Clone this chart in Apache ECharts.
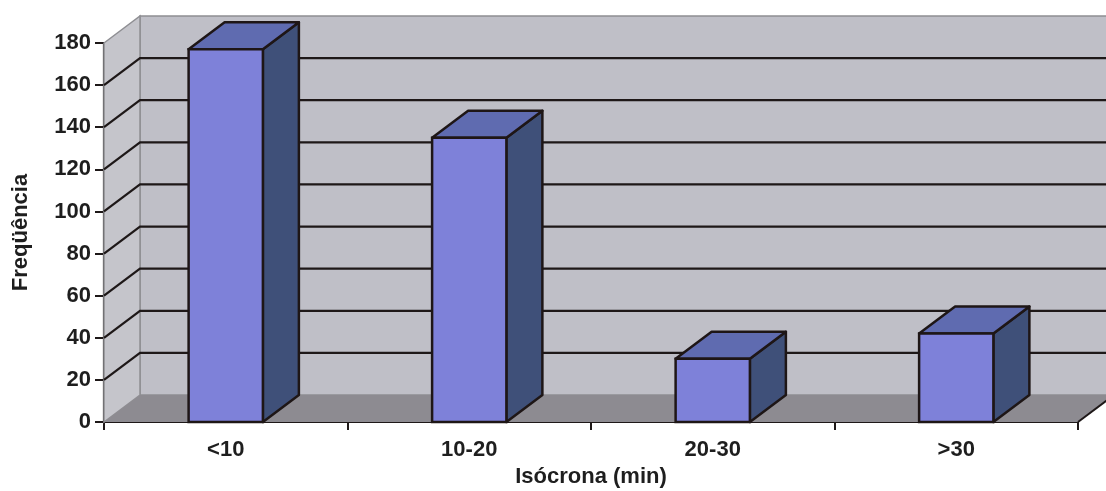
<!DOCTYPE html>
<html>
<head>
<meta charset="utf-8">
<script src="https://cdn.jsdelivr.net/npm/echarts@6/dist/echarts.min.js"></script>
<style>
html,body{margin:0;padding:0;background:#fff;}
#chart{width:1106px;height:491px;}
</style>
</head>
<body>
<div id="chart"></div>
<script>
const categories = ['<10', '10-20', '20-30', '>30'];
const values = [177, 135, 30, 42];
const yMin = 0, yMax = 180, yInterval = 20;
const gridValues = [20, 40, 60, 80, 100, 120, 140, 160];
const yAxisTitle = 'Freqüência';
const xAxisTitle = 'Isócrona (min)';

const DX = 36, DY = -27;
const FONT = "'Liberation Sans', Arial, sans-serif";

const chart = echarts.init(document.getElementById('chart'), null, {renderer: 'canvas'});

function renderBackground(params, api) {
  const cs = params.coordSys;
  const gx = cs.x, gy = cs.y, gw = cs.width, gh = cs.height;
  const children = [];
  children.push({type: 'rect', shape: {x: gx + DX, y: gy + DY, width: gw, height: gh},
    style: {fill: '#bfbfc7', stroke: '#8f8f93', lineWidth: 1.5}});
  children.push({type: 'polygon', shape: {points: [[gx, gy], [gx + DX, gy + DY], [gx + DX, gy + gh + DY], [gx, gy + gh]]},
    style: {fill: '#c5c5cb', stroke: '#8f8f93', lineWidth: 1.5}});
  children.push({type: 'polygon', shape: {points: [[gx, gy + gh], [gx + DX, gy + gh + DY], [gx + gw + DX, gy + gh + DY], [gx + gw, gy + gh]]},
    style: {fill: '#8d8b91', stroke: null}});
  children.push({type: 'line', shape: {x1: gx + gw, y1: gy + gh, x2: gx + gw + DX, y2: gy + gh + DY},
    style: {stroke: '#1e1818', lineWidth: 2}});
  gridValues.forEach(function (v) {
    const y = api.coord([0, v])[1];
    children.push({type: 'polyline', shape: {points: [[gx, y], [gx + DX, y + DY], [gx + gw + DX, y + DY]]},
      style: {stroke: '#1e1818', lineWidth: 2.2, fill: null}});
  });
  return {type: 'group', children: children};
}

function renderBar(params, api) {
  const idx = api.value(0);
  const val = api.value(1);
  const top = api.coord([idx, val]);
  const base = api.coord([idx, 0]);
  const bw = api.size([1, 0])[0] * 0.305;
  const x0 = top[0] - bw / 2, x1 = top[0] + bw / 2;
  const yt = top[1], yb = base[1];
  const stroke = '#1e1616';
  const lw = 2.5;
  return {type: 'group', children: [
    {type: 'polygon', shape: {points: [[x1, yt], [x1 + DX, yt + DY], [x1 + DX, yb + DY], [x1, yb]]},
      style: {fill: '#3f5079', stroke: stroke, lineWidth: lw, lineJoin: 'round'}},
    {type: 'polygon', shape: {points: [[x0, yt], [x0 + DX, yt + DY], [x1 + DX, yt + DY], [x1, yt]]},
      style: {fill: '#5f6bb0', stroke: stroke, lineWidth: lw, lineJoin: 'round'}},
    {type: 'rect', shape: {x: x0, y: yt, width: bw, height: yb - yt},
      style: {fill: '#7e81d9', stroke: stroke, lineWidth: lw}}
  ]};
}

const option = {
  animation: false,
  backgroundColor: '#ffffff',
  grid: {left: 104, right: 28, top: 43, bottom: 69, containLabel: false, outerBoundsMode: 'none'},
  xAxis: {
    type: 'category',
    data: categories,
    boundaryGap: true,
    axisLine: {show: true, lineStyle: {color: '#1e1818', width: 2.2}},
    axisTick: {show: true, length: 8, lineStyle: {color: '#1e1818', width: 2}},
    axisLabel: {margin: 17, color: '#1e1e1e', fontFamily: FONT, fontWeight: 'bold', fontSize: 22},
    splitLine: {show: false},
    name: xAxisTitle,
    nameLocation: 'middle',
    nameGap: 44,
    nameTextStyle: {color: '#1e1e1e', fontFamily: FONT, fontWeight: 'bold', fontSize: 22}
  },
  yAxis: {
    type: 'value',
    min: yMin, max: yMax, interval: yInterval,
    axisLine: {show: true, lineStyle: {color: '#1e1818', width: 2.2}},
    axisTick: {show: true, length: 9, lineStyle: {color: '#1e1818', width: 2}},
    axisLabel: {margin: 13, color: '#1e1e1e', fontFamily: FONT, fontWeight: 'bold', fontSize: 22},
    splitLine: {show: false},
    name: yAxisTitle,
    nameLocation: 'middle',
    nameGap: 72,
    nameRotate: 90,
    nameTextStyle: {color: '#1e1e1e', fontFamily: FONT, fontWeight: 'bold', fontSize: 22}
  },
  series: [
    {
      type: 'custom',
      name: 'background',
      coordinateSystem: 'cartesian2d',
      renderItem: renderBackground,
      data: [[0, 0]],
      z: 1,
      silent: true,
      clip: false
    },
    {
      type: 'custom',
      name: 'bars',
      coordinateSystem: 'cartesian2d',
      renderItem: renderBar,
      data: values.map(function (v, i) { return [i, v]; }),
      encode: {x: 0, y: 1},
      z: 2,
      clip: false
    }
  ]
};
chart.setOption(option);
</script>
</body>
</html>
